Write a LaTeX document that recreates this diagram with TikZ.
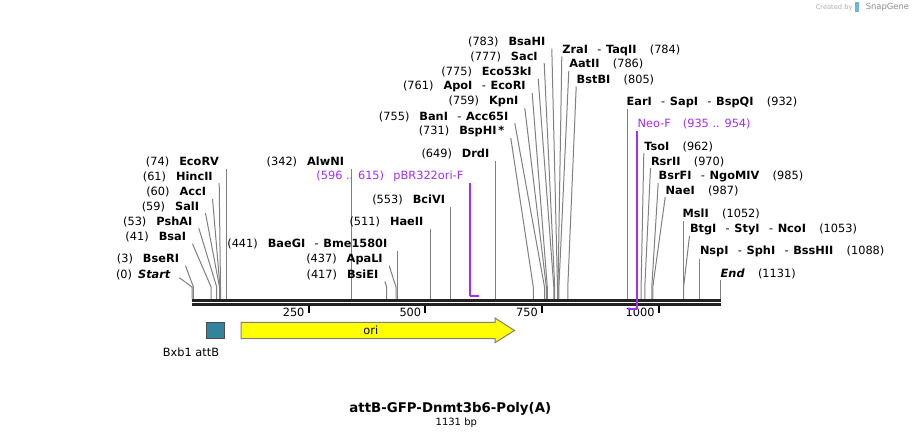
\documentclass[tikz,border=0pt]{standalone}
\usepackage{fontspec}
\setmainfont{DejaVu Sans}
\usetikzlibrary{calc}
\definecolor{cgray}{RGB}{128,128,128}
\definecolor{bbone}{RGB}{34,34,34}
\definecolor{prim}{RGB}{160,48,245}
\definecolor{attb}{RGB}{49,132,155}
\definecolor{orifill}{RGB}{255,255,0}
\definecolor{wmgray}{RGB}{175,175,175}
\definecolor{wmdark}{RGB}{140,140,140}
\definecolor{wmblue}{RGB}{110,180,225}
\newcommand\Ln[2]{(#1)\hspace{7.5pt}\textbf{#2}}
\newcommand\Rn[2]{\textbf{#1}\hspace{10pt}(#2)}
\newcommand\dsh{\hspace{7pt}-\hspace{3.5pt}}
% left slanted
\newcommand\LS[5]{\node[lab,anchor=east] (#1) at (#2,#3) {#4};
 \coordinate (#1k) at (#5,287); \coordinate (#1s) at (#5,299);
 \draw[cn] ($(#1.east)+(6.5,6.5)$) -- (#1k) -- (#1s);}
% left vertical
\newcommand\LV[5]{\node[lab,anchor=east] (#1) at (#2,#3) {#4};
 \coordinate (#1s) at (#5,299); \coordinate (#1t) at ($(#1.east)+(0,7)$);
 \draw[cn] (#1t -| #1s) -- (#1s);}
% right slanted
\newcommand\RS[5]{\node[lab,anchor=west] (#1) at (#2,#3) {#4};
 \coordinate (#1k) at (#5,287); \coordinate (#1s) at (#5,299);
 \draw[cn] ($(#1.west)+(-0.5,6.5)$) -- (#1k) -- (#1s);}
% right vertical
\newcommand\RV[5]{\node[lab,anchor=west] (#1) at (#2,#3) {#4};
 \coordinate (#1s) at (#5,299); \coordinate (#1t) at ($(#1.west)+(0,7)$);
 \draw[cn] (#1t -| #1s) -- (#1s);}
\begin{document}
\begin{tikzpicture}[x=0.75pt,y=-0.75pt,
  lab/.style={inner sep=0pt, outer sep=0pt, font=\fontsize{8.5}{10}\selectfont},
  cn/.style={draw=cgray, line width=0.75pt},
  pr/.style={draw=prim, line width=1.25pt},
  prh/.style={draw=prim, line width=1.6pt},
  tick/.style={draw=black, line width=1.5pt},
  ticklab/.style={inner sep=0pt, anchor=east, font=\fontsize{8.5}{10}\selectfont}]
\useasboundingbox[fill=white] (0,0) rectangle (913,438);

% watermark
\node[inner sep=0pt, anchor=west, text=wmgray, font=\fontsize{5}{6}\selectfont] (wm1) at (815.5,7.5) {Created by};
\fill[wmblue] (855,2.5) rectangle (859,12);
\node[inner sep=0pt, anchor=west, text=wmdark, font=\fontsize{6.3}{7}\selectfont] (wm2) at (865.5,7.5) {SnapGene};

% left cluster
\node[lab,anchor=east] (eStart) at (170.7,275.3) {(0)\hspace{4.5pt}\textbf{\textit{Start}}};
\coordinate (eStartk) at (192,287); \coordinate (eStarts) at (192,299);
\draw[cn] ($(eStart.east)+(8.6,2.4)$) -- (eStartk) -- (eStarts);
\LS{eBseRI}{179}{259.3}{\Ln{3}{BseRI}}{193.4}
\LS{eBsaI}{186}{237.3}{\Ln{41}{BsaI}}{211.1}
\LS{ePshAI}{192.3}{221.7}{\Ln{53}{PshAI}}{216.7}
\LS{eSalI}{199}{206.7}{\Ln{59}{SalI}}{219.5}
\LS{eAccI}{206}{192.3}{\Ln{60}{AccI}}{220.0}
\LS{eHincII}{212.7}{176.7}{\Ln{61}{HincII}}{220.5}
\LV{eEcoRV}{219}{161.7}{\Ln{74}{EcoRV}}{226.5}

% middle
\LV{eAlwNI}{344}{162}{\Ln{342}{AlwNI}}{351.7}
\LS{eBsiEI}{378.3}{275}{\Ln{417}{BsiEI}}{386.7}
\LS{eApaLI}{382.7}{259.3}{\Ln{437}{ApaLI}}{396.0}
\LV{eBaeGI}{387.3}{244.3}{(441)\hspace{7.5pt}\textbf{BaeGI}\dsh\textbf{Bme1580I}}{397.9}
\LV{eHaeII}{423.3}{221.7}{\Ln{511}{HaeII}}{430.6}
\LV{eBciVI}{445}{200}{\Ln{553}{BciVI}}{450.2}
\LV{eDrdI}{489.3}{154.3}{\Ln{649}{DrdI}}{495.0}

% upper cluster (left side)
\LS{eBspHI}{504.3}{131.7}{(731)\hspace{7.5pt}\textbf{BspHI\,*}}{533.3}
\LS{eBanI}{508.3}{116.7}{(755)\hspace{7.5pt}\textbf{BanI}\dsh\textbf{Acc65I}}{544.5}
\LS{eKpnI}{518.3}{101.7}{\Ln{759}{KpnI}}{546.3}
\LS{eApoI}{525.7}{86.7}{(761)\hspace{7.5pt}\textbf{ApoI}\dsh\textbf{EcoRI}}{547.3}
\LS{eEco53kI}{531.7}{72.3}{\Ln{775}{Eco53kI}}{553.8}
\LS{eSacI}{537.7}{56.7}{\Ln{777}{SacI}}{554.7}
\LS{eBsaHI}{545.3}{42.3}{\Ln{783}{BsaHI}}{557.5}

% right side
\RS{eZraI}{562.3}{50}{\textbf{ZraI}\dsh\textbf{TaqII}\hspace{10pt}(784)}{558.0}
\RS{eAatII}{569.3}{64.3}{\Rn{AatII}{786}}{558.9}
\RS{eBstBI}{576.7}{80}{\Rn{BstBI}{805}}{567.8}
\RV{eEarI}{626.7}{102.3}{\textbf{EarI}\dsh\textbf{SapI}\dsh\textbf{BspQI}\hspace{10pt}(932)}{627.1}
\RS{eTsoI}{644.3}{146.7}{\Rn{TsoI}{962}}{641.1}
\RS{eRsrII}{651}{161.7}{\Rn{RsrII}{970}}{644.8}
\RS{eBsrFI}{658.7}{176.7}{\textbf{BsrFI}\dsh\textbf{NgoMIV}\hspace{10pt}(985)}{651.8}
\RS{eNaeI}{665.7}{190.7}{\Rn{NaeI}{987}}{652.8}
\RV{eMslI}{682.7}{214.3}{\Rn{MslI}{1052}}{683.1}
\RS{eBtgI}{690}{229.3}{\textbf{BtgI}\dsh\textbf{StyI}\dsh\textbf{NcoI}\hspace{10pt}(1053)}{683.6}
\RV{eNspI}{700}{251.7}{\textbf{NspI}\dsh\textbf{SphI}\dsh\textbf{BssHII}\hspace{10pt}(1088)}{699.9}
\node[lab,anchor=west] (eEnd) at (720.7,274) {\textbf{\textit{End}}\hspace{10pt}(1131)};
\coordinate (eEnds) at (720,299); \coordinate (eEndt) at ($(eEnd.west)+(0,6)$);
\draw[cn] (eEndt -| eEnds) -- (eEnds);

% backbone
\coordinate (b0) at (192,300.5); \coordinate (b1) at (720.5,300.5);
\coordinate (c0) at (192,304.5); \coordinate (c1) at (720.5,304.5);
\draw[bbone, line width=2.25pt] (b0) -- (b1);
\draw[bbone, line width=2.25pt] (c0) -- (c1);

% ticks
\foreach \tx/\tl in {308.7/250, 425.4/500, 542.1/750, 658.8/1000}{
  \draw[tick] (\tx,305.5) -- (\tx,313);
  \node[ticklab] at (\tx-4,312.3) {\tl};
}

% primers
\node[lab,anchor=east,text=prim] (pBR) at (463.3,176) {(596 .. 615)\hspace{7pt}pBR322ori-F};
\coordinate (pBRa) at (469.7,296); \coordinate (pBRb) at (479,296);
\coordinate (pBRt) at ($(pBR.east)+(6.4,7)$);
\draw[pr] (pBRt -| pBRa) -- (pBRa);
\draw[prh] (pBRa) -- (pBRb);
\node[lab,anchor=west,text=prim] (neo) at (637.7,124.3) {Neo-F\hspace{9pt}(935 .. 954)};
\coordinate (neoa) at (637.3,309); \coordinate (neob) at (628.3,309);
\coordinate (neot) at ($(neo.west)+(0,6.5)$);
\draw[pr] (neot -| neoa) -- (neoa);
\draw[prh] (neoa) -- (neob);

% features
\node[draw=black!70, line width=0.75pt, fill=attb, minimum width=18.4*0.75pt, minimum height=16.4*0.75pt, inner sep=0pt] (attB) at (215.5,330.5) {};
\node[inner sep=0pt, font=\fontsize{8.5}{10}\selectfont] (attBl) at (191,352) {Bxb1 attB};
\draw[draw=cgray, line width=0.75pt, fill=orifill] (241,322.3) -- (495,322.3) -- (495,318) -- (514.5,330.5) -- (495,342.7) -- (495,338.7) -- (241,338.7) -- cycle;
\node[inner sep=0pt, font=\fontsize{8.5}{10}\selectfont] (oril) at (370.8,330) {ori};

% title
\node[inner sep=0pt, font=\bfseries\fontsize{10}{12}\selectfont] (title) at (450.3,408.5) {attB-GFP-Dnmt3b6-Poly(A)};
\node[inner sep=0pt, font=\fontsize{7.5}{9}\selectfont] (bp) at (456.3,423) {1131 bp};
\end{tikzpicture}
\end{document}
